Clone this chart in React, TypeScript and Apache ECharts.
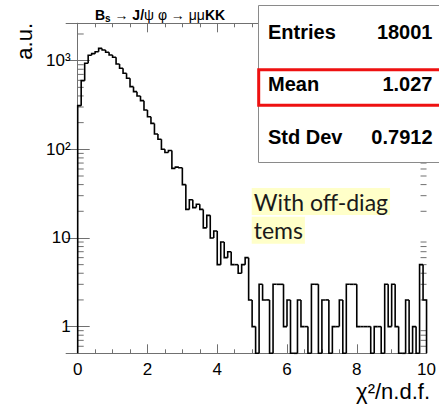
import React, { useEffect, useRef } from 'react';
import * as echarts from 'echarts';

// Histogram: chi2/ndf, 100 bins from 0 to 10
const X_MIN = 0;
const X_MAX = 10;
const BIN_WIDTH = 0.1;
const Y_MIN = 0.5;
const Y_MAX = 2640;

const counts: number[] = [
  311, 595, 935, 1150, 1200, 1260, 1375, 1320, 1243, 1158,
  1093, 916, 820, 720, 633, 509, 447, 400, 354, 278,
  233, 196, 149, 130, 100, 92, 97, 61, 63, 62,
  40, 21, 27, 22, 24, 21, 13, 18, 10, 12,
  5, 9, 6, 7, 5, 5, 4, 5, 6, 2,
  1, 0, 3, 2, 2, 0, 3, 3, 3, 1,
  2, 0, 0, 2, 1, 1, 0, 3, 3, 0,
  2, 2, 0, 1, 1, 2, 0, 3, 3, 3,
  1, 1, 1, 1, 0, 1, 1, 0, 3, 1,
  3, 1, 0, 0, 2, 0, 1, 0, 5, 2,
];

const minorTickValues: number[] = [
  0.6, 0.7, 0.8, 0.9,
  2, 3, 4, 5, 6, 7, 8, 9,
  20, 30, 40, 50, 60, 70, 80, 90,
  200, 300, 400, 500, 600, 700, 800, 900,
  2000,
];

const statLabels: string[] = ['Entries', 'Mean', 'Std Dev'];
const statValues: string[] = ['18001', '1.027', '0.7912'];

const AXIS_COLOR = '#707070';
const FONT = 'Liberation Sans, Arial, Helvetica, sans-serif';

function supLabel(v: number): string {
  const e = Math.round(Math.log10(v));
  if (e === 0) return '1';
  if (e === 1) return '10';
  if (e === 2) return '10²';
  if (e === 3) return '10³';
  return '';
}

export default function App() {
  const ref = useRef<HTMLDivElement>(null);

  useEffect(() => {
    if (!ref.current) return;
    const chart = echarts.init(ref.current, undefined, { renderer: 'svg' });

    const histData = counts.map((c, i) => [
      X_MIN + i * BIN_WIDTH,
      X_MIN + (i + 1) * BIN_WIDTH,
      c,
      i > 0 ? counts[i - 1] : 0,
      i === counts.length - 1 ? 1 : 0,
    ]);

    const xAxisCommon = {
      type: 'value' as const,
      min: X_MIN,
      max: X_MAX,
      interval: 2,
      axisLine: { show: true, lineStyle: { color: AXIS_COLOR, width: 1 } },
      axisTick: { show: true, inside: true, length: 9, lineStyle: { color: AXIS_COLOR, width: 1 } },
      minorTick: { show: true, splitNumber: 4, length: 4, lineStyle: { color: AXIS_COLOR, width: 1 } },
      splitLine: { show: false },
      minorSplitLine: { show: false },
    };

    const yAxisCommon = {
      type: 'log' as const,
      logBase: 10,
      min: Y_MIN,
      max: Y_MAX,
      axisLine: { show: true, lineStyle: { color: AXIS_COLOR, width: 1 } },
      axisTick: { show: true, inside: true, length: 12, lineStyle: { color: AXIS_COLOR, width: 1 } },
      splitLine: { show: false },
    };

    const boxX = 258.5;
    const rowY = [32, 84, 137];

    chart.setOption({
      animation: false,
      backgroundColor: '#ffffff',
      grid: { left: 77.7, right: 9, top: 23.3, bottom: 51.7, containLabel: false },
      xAxis: [
        {
          ...xAxisCommon,
          position: 'bottom',
          axisLabel: { color: '#000', fontSize: 17, fontFamily: FONT, margin: 8 },
        },
        {
          ...xAxisCommon,
          position: 'top',
          axisLabel: { show: false },
        },
      ],
      yAxis: [
        {
          ...yAxisCommon,
          position: 'left',
          axisLabel: {
            color: '#000',
            fontSize: 17,
            fontFamily: FONT,
            margin: 7,
            showMinLabel: false,
            showMaxLabel: false,
            formatter: (v: number) => supLabel(v),
          },
        },
        {
          ...yAxisCommon,
          position: 'right',
          axisLabel: { show: false },
        },
      ],
      series: [
        {
          type: 'custom',
          name: 'minorTicks',
          xAxisIndex: 0,
          yAxisIndex: 0,
          silent: true,
          data: minorTickValues.map((v) => [X_MIN, v]),
          encode: { x: 0, y: 1 },
          renderItem: (_params: any, api: any) => {
            const v = api.value(1);
            const pl = api.coord([X_MIN, v]);
            const pr = api.coord([X_MAX, v]);
            const st = { stroke: AXIS_COLOR, lineWidth: 1 };
            return {
              type: 'group',
              children: [
                { type: 'line', shape: { x1: pl[0], y1: pl[1], x2: pl[0] + 6, y2: pl[1] }, style: st },
                { type: 'line', shape: { x1: pr[0], y1: pr[1], x2: pr[0] - 6, y2: pr[1] }, style: st },
              ],
            };
          },
          z: 1,
        },
        {
          type: 'custom',
          name: 'hist',
          xAxisIndex: 0,
          yAxisIndex: 0,
          silent: true,
          data: histData,
          encode: { x: [0, 1], y: 1 },
          renderItem: (_params: any, api: any) => {
            const lo = api.value(0);
            const hi = api.value(1);
            const c = api.value(2);
            const p = api.value(3);
            const last = api.value(4);
            const yOf = (v: number) => api.coord([lo, v > 0 ? v : Y_MIN])[1];
            const x0 = api.coord([lo, Y_MIN])[0];
            const x1 = api.coord([hi, Y_MIN])[0];
            const pts: number[][] = [
              [x0, yOf(p)],
              [x0, yOf(c)],
              [x1, yOf(c)],
            ];
            if (last) pts.push([x1, yOf(0)]);
            return {
              type: 'polyline',
              shape: { points: pts },
              style: { stroke: '#000', lineWidth: 1.6, fill: null, lineJoin: 'miter' },
            };
          },
          z: 3,
        },
      ],
      graphic: [
        {
          type: 'text',
          z: 100,
          x: 24,
          y: 23,
          rotation: Math.PI / 2,
          style: {
            text: 'a.u.',
            fill: '#000',
            font: `22px ${FONT}`,
            align: 'right',
            verticalAlign: 'middle',
          },
        },
        {
          type: 'text',
          z: 100,
          x: 430,
          y: 391,
          style: {
            text: 'χ²/n.d.f.',
            fill: '#000',
            font: `22px ${FONT}`,
            align: 'right',
            verticalAlign: 'middle',
          },
        },
        {
          type: 'text',
          z: 100,
          x: 160,
          y: 15,
          style: {
            text: '{b|B}{sub|s}{n| → }{b|J/}{n|ψ φ → μμ}{b|KK}',
            fill: '#000',
            align: 'center',
            verticalAlign: 'middle',
            rich: {
              b: { fontFamily: FONT, fontWeight: 'bold', fontSize: 14, fill: '#000' },
              n: { fontFamily: FONT, fontSize: 14, fill: '#000' },
              sub: { fontFamily: FONT, fontWeight: 'bold', fontSize: 10, fill: '#000', padding: [6, 0, 0, 0] },
            },
          },
        },
        {
          type: 'rect',
          z: 100,
          shape: { x: boxX, y: 5.5, width: 200, height: 157 },
          style: { fill: '#fff', stroke: '#8a8a8a', lineWidth: 1 },
        },
        ...statLabels.map((t, i) => ({
          type: 'text',
          z: 101,
          x: 268,
          y: rowY[i],
          style: {
            text: t,
            fill: '#000',
            font: `bold 20px ${FONT}`,
            align: 'left',
            verticalAlign: 'middle',
          },
        })),
        ...statValues.map((t, i) => ({
          type: 'text',
          z: 101,
          x: 432.5,
          y: rowY[i],
          style: {
            text: t,
            fill: '#000',
            font: `bold 20px ${FONT}`,
            align: 'right',
            verticalAlign: 'middle',
          },
        })),
        {
          type: 'rect',
          z: 102,
          shape: { x: 258.7, y: 69.7, width: 200, height: 35.6 },
          style: { fill: null, stroke: '#ee1111', lineWidth: 3 },
        },
        {
          type: 'text',
          z: 100,
          x: 251.7,
          y: 188,
          style: {
            text: 'With off-diag',
            fill: '#1a1a1a',
            font: `23px Lato, ${FONT}`,
            align: 'left',
            verticalAlign: 'top',
            backgroundColor: '#ffffc9',
            padding: [2, 2, 2, 2],
          },
        },
        {
          type: 'text',
          z: 100,
          x: 251.7,
          y: 216.7,
          style: {
            text: 'tems',
            fill: '#1a1a1a',
            font: `23px Lato, ${FONT}`,
            align: 'left',
            verticalAlign: 'top',
            backgroundColor: '#ffffc9',
            padding: [2, 2, 2, 2],
          },
        },
      ],
    });

    return () => chart.dispose();
  }, []);

  return (
    <div
      ref={ref}
      style={{ position: 'fixed', left: 0, top: 0, width: 439, height: 405, background: '#fff' }}
    />
  );
}
